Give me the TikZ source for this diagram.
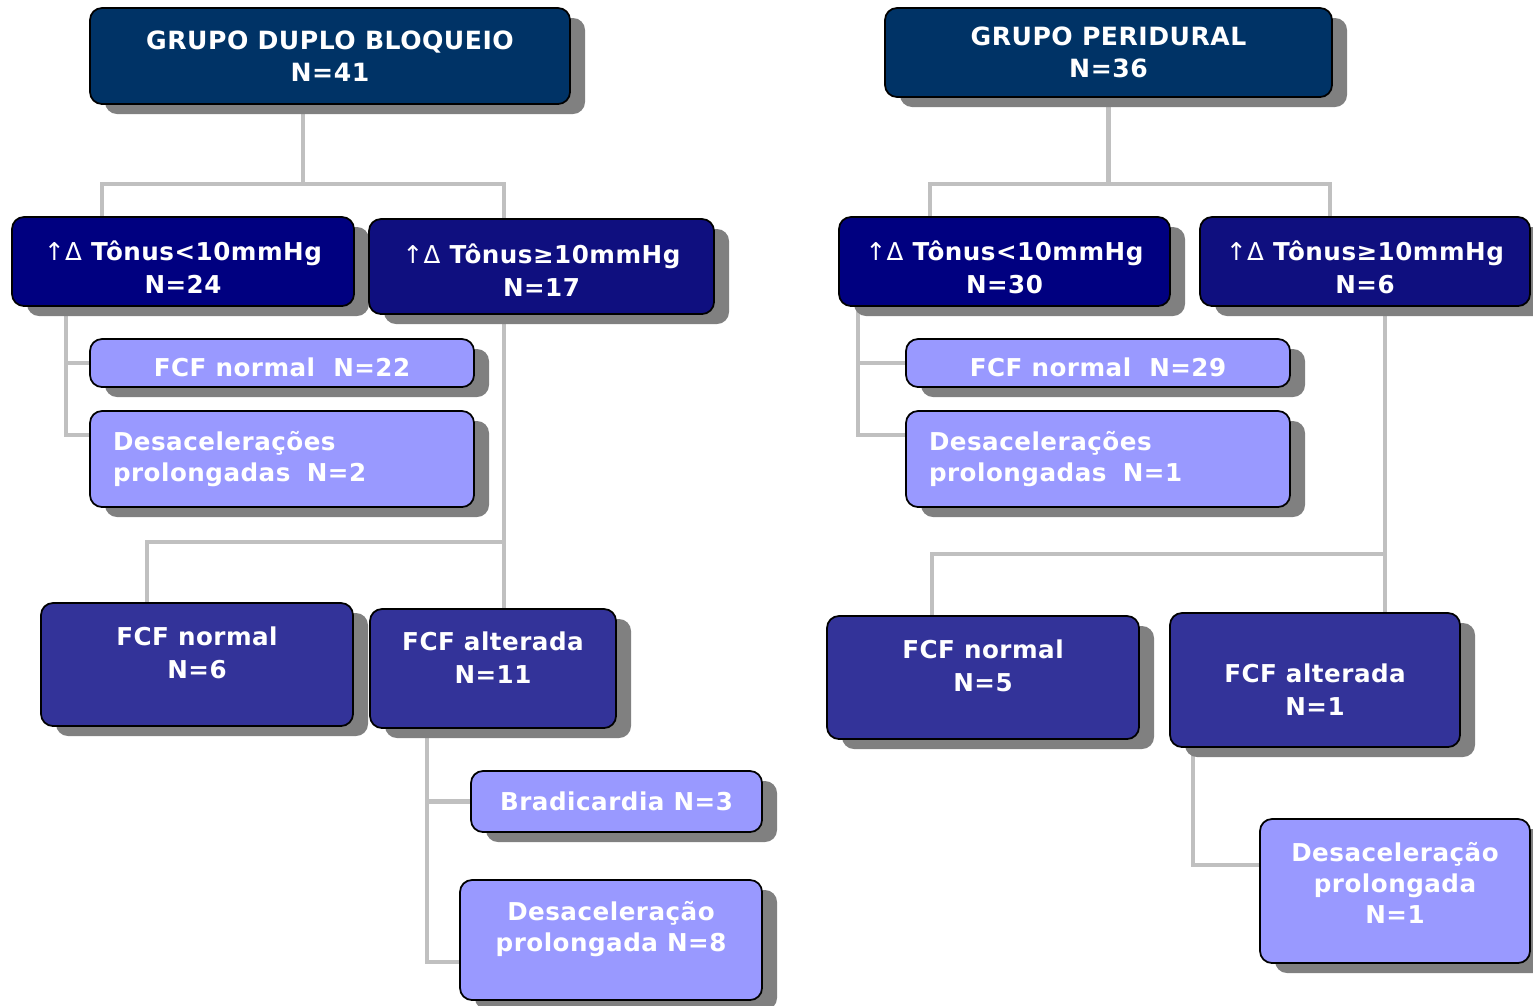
\documentclass[tikz,border=0pt]{standalone}
\usepackage{fontspec}
\setmainfont{DejaVu Sans}[LetterSpace=2]
\usetikzlibrary{shadows,backgrounds}
\definecolor{grupoBlue}{HTML}{003366}
\definecolor{tonusLow}{HTML}{000080}
\definecolor{tonusHigh}{HTML}{0F0F7F}
\definecolor{fcfBlue}{HTML}{333399}
\definecolor{detLilac}{HTML}{9999FF}
\definecolor{shadowGray}{HTML}{808080}
\definecolor{linkGray}{HTML}{C0C0C0}
\def\pxu{0.02cm}
% invisible struts that move a node's text down / up inside its box
\newcommand{\txtdown}[1]{\rule{0pt}{#1}}
\newcommand{\txtup}[1]{\rule[-#1]{0pt}{0pt}}

\begin{document}
\begin{tikzpicture}[x=\pxu, y=-\pxu, font=\bfseries\fontsize{14}{19}\selectfont,
  box/.style={draw=black, line width=1pt, rounded corners=0.24cm, text=white,
    align=center, inner sep=0pt,
    drop shadow={shadow xshift=0.3cm, shadow yshift=-0.2cm, fill=shadowGray, opacity=1}},
  grupo/.style={box, fill=grupoBlue, font=\bfseries\fontsize{14.3}{18}\selectfont},
  tonus/.style={box, fill=tonusLow},
  fcf/.style={box, fill=fcfBlue},
  detalhe/.style={box, fill=detLilac, font=\bfseries\fontsize{14}{17.5}\selectfont},
  link/.style={draw=linkGray, line width=2.8pt}]
\useasboundingbox (0,0) rectangle (1533,1005);
% ---------------- left tree: duplo bloqueio ----------------
\node[grupo, minimum width=480*\pxu, minimum height=96*\pxu] (gdb) at (330,56)
  {GRUPO DUPLO BLOQUEIO\\N=41};
\node[tonus, minimum width=342*\pxu, minimum height=89*\pxu] (a1) at (183,261.5)
  {\txtdown{17.7pt}{\mdseries ↑Δ} Tônus<10mmHg\\N=24};
\node[tonus, fill=tonusHigh, minimum width=345*\pxu, minimum height=95*\pxu] (a2) at (541.5,266.5)
  {\txtdown{15.4pt}{\mdseries ↑Δ} Tônus≥10mmHg\\N=17};
\node[detalhe, minimum width=384*\pxu, minimum height=48*\pxu] (a1a) at (282,363)
  {\txtdown{15.1pt}FCF normal~ N=22};
\node[detalhe, minimum width=384*\pxu, minimum height=96*\pxu, text width=338*\pxu, align=left] (a1b) at (282,459)
  {Desacelerações\\prolongadas~ N=2};
\node[fcf, minimum width=312*\pxu, minimum height=123*\pxu] (a2a) at (197,664.5)
  {FCF normal\\N=6\txtup{13.6pt}};
\node[fcf, minimum width=246*\pxu, minimum height=119*\pxu] (a2b) at (493,668.5)
  {FCF alterada\\N=11\txtup{12.5pt}};
\node[detalhe, minimum width=291*\pxu, minimum height=61*\pxu] (a2b1) at (616.5,801.5)
  {Bradicardia N=3};
\node[detalhe, minimum width=302*\pxu, minimum height=120*\pxu] (a2b2) at (611,940)
  {Desaceleração\\prolongada N=8\txtup{15.8pt}};
% ---------------- right tree: peridural ----------------
\node[grupo, minimum width=447*\pxu, minimum height=89*\pxu] (gp) at (1108.5,52.5)
  {GRUPO PERIDURAL\\N=36};
\node[tonus, minimum width=331*\pxu, minimum height=89*\pxu] (b1) at (1004.5,261.5)
  {\txtdown{17.7pt}{\mdseries ↑Δ} Tônus<10mmHg\\N=30};
\node[tonus, fill=tonusHigh, minimum width=330*\pxu, minimum height=89*\pxu] (b2) at (1365,261.5)
  {\txtdown{17.7pt}{\mdseries ↑Δ} Tônus≥10mmHg\\N=6};
\node[detalhe, minimum width=384*\pxu, minimum height=48*\pxu] (b1a) at (1098,363)
  {\txtdown{15.1pt}FCF normal~ N=29};
\node[detalhe, minimum width=384*\pxu, minimum height=96*\pxu, text width=338*\pxu, align=left] (b1b) at (1098,459)
  {Desacelerações\\prolongadas~ N=1};
\node[fcf, minimum width=312*\pxu, minimum height=123*\pxu] (b2a) at (983,677.5)
  {FCF normal\\N=5\txtup{13.6pt}};
\node[fcf, minimum width=290*\pxu, minimum height=134*\pxu] (b2b) at (1315,680)
  {\txtdown{21.9pt}FCF alterada\\N=1};
\node[detalhe, minimum width=270*\pxu, minimum height=144*\pxu] (b2b2) at (1395,891)
  {Desaceleração\\prolongada\\N=1\txtup{9.1pt}};
% bend points of the connectors
\coordinate (tA) at (102,184);
\coordinate (tB) at (504,184);
\coordinate (uA) at (147,542);
\coordinate (vA) at (66,435);
\coordinate (wA) at (427,962);
\coordinate (tC) at (930,184);
\coordinate (tD) at (1330,184);
\coordinate (uB) at (932,554);
\coordinate (tE) at (1385,554);
\coordinate (vB) at (858,435);
\coordinate (wB) at (1193,865);
\begin{scope}[on background layer]
  \draw[link] (gdb.south -| 303,0) -- (tA -| 303,0);
  \draw[link] (tA |- a1.north) -- (tA) -- (tB) -- (tB |- a2b.north);
  \draw[link] (uA |- a2a.north) -- (uA) -- (uA -| tB);
  \draw[link] (vA |- a1.south) -- (vA) -- (vA -| a1b.west);
  \draw[link] (vA |- a1a.west) -- (a1a.west);
  \draw[link] (wA |- a2b.south) -- (wA) -- (wA -| a2b2.west);
  \draw[link] (wA |- a2b1.west) -- (a2b1.west);
  \draw[link] (gp.south) -- (gp.south |- tC);
  \draw[link] (tC |- b1.north) -- (tC) -- (tD) -- (tD |- b2.north);
  \draw[link] (tE |- b2.south) -- (tE |- b2b.north);
  \draw[link] (uB |- b2a.north) -- (uB) -- (tE);
  \draw[link] (vB |- b1.south) -- (vB) -- (vB -| b1b.west);
  \draw[link] (vB |- b1a.west) -- (b1a.west);
  \draw[link] (wB |- b2b.south) -- (wB) -- (wB -| b2b2.west);
\end{scope}
\end{tikzpicture}
\end{document}
